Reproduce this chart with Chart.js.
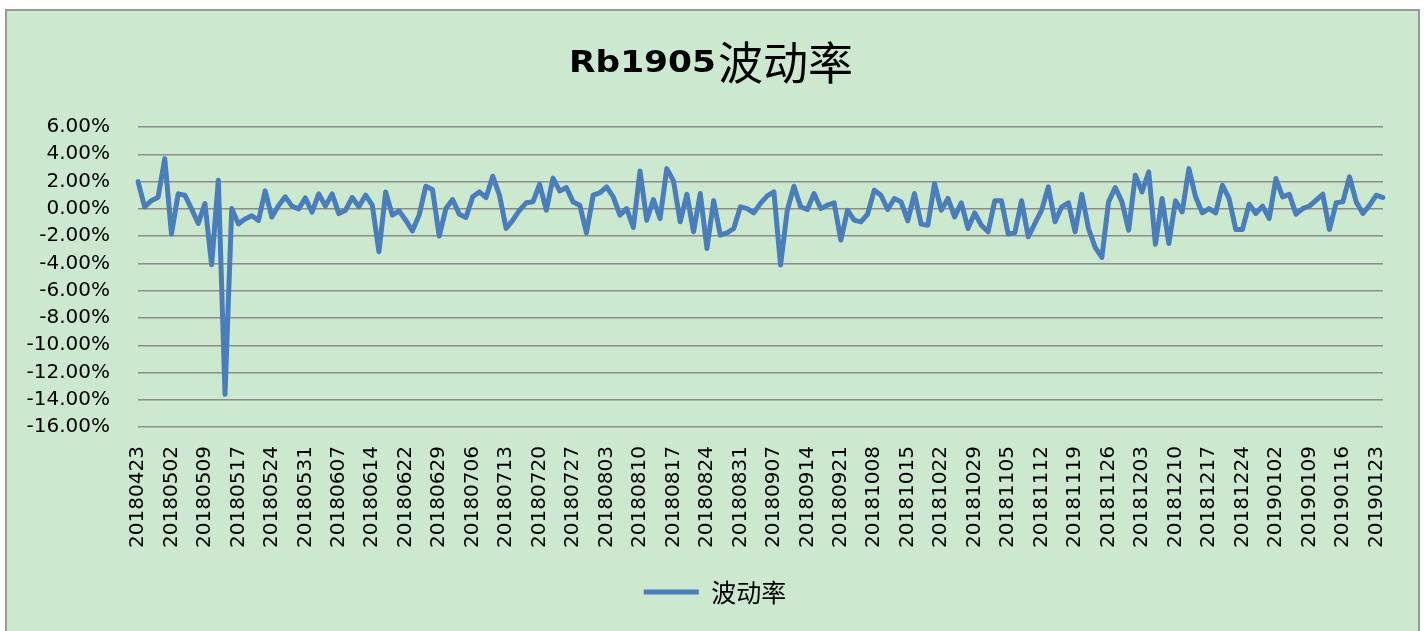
<!DOCTYPE html>
<html>
<head>
<meta charset="utf-8">
<script src="https://cdn.jsdelivr.net/npm/chart.js@4/dist/chart.umd.min.js"></script>
<style>
html, body { margin:0; padding:0; background:#ffffff; width:1426px; height:631px; overflow:hidden; }
#frame { position:absolute; left:5px; top:9px; width:1411px; height:640px; background:#CCE8CF; border:2px solid #9a9a9a; }
#wrap { position:absolute; left:0; top:0; width:1426px; height:631px; }
</style>
</head>
<body>
<div id="frame"></div>
<div id="wrap"><canvas id="c" width="1426" height="631"></canvas></div>
<script>
const TITLE = 'Rb1905波动率';
const SERIES_NAME = '波动率';

const dates = [
  '20180423','20180424','20180425','20180426','20180427',
  '20180502','20180503','20180504','20180507','20180508',
  '20180509','20180511','20180514','20180515','20180516',
  '20180517','20180518','20180521','20180522','20180523',
  '20180524','20180525','20180528','20180529','20180530',
  '20180531','20180601','20180604','20180605','20180606',
  '20180607','20180608','20180611','20180612','20180613',
  '20180614','20180615','20180619','20180620','20180621',
  '20180622','20180625','20180626','20180627','20180628',
  '20180629','20180702','20180703','20180704','20180705',
  '20180706','20180709','20180710','20180711','20180712',
  '20180713','20180716','20180717','20180718','20180719',
  '20180720','20180723','20180724','20180725','20180726',
  '20180727','20180730','20180731','20180801','20180802',
  '20180803','20180806','20180807','20180808','20180809',
  '20180810','20180813','20180814','20180815','20180816',
  '20180817','20180820','20180821','20180822','20180823',
  '20180824','20180827','20180828','20180829','20180830',
  '20180831','20180903','20180904','20180905','20180906',
  '20180907','20180910','20180911','20180912','20180913',
  '20180914','20180917','20180918','20180919','20180920',
  '20180921','20180925','20180926','20180927','20180928',
  '20181008','20181009','20181010','20181011','20181012',
  '20181015','20181016','20181017','20181018','20181019',
  '20181022','20181023','20181024','20181025','20181026',
  '20181029','20181030','20181031','20181101','20181102',
  '20181105','20181106','20181107','20181108','20181109',
  '20181112','20181113','20181114','20181115','20181116',
  '20181119','20181120','20181121','20181122','20181123',
  '20181126','20181127','20181128','20181129','20181130',
  '20181203','20181204','20181205','20181206','20181207',
  '20181210','20181211','20181212','20181213','20181214',
  '20181217','20181218','20181219','20181220','20181221',
  '20181224','20181225','20181226','20181227','20181228',
  '20190102','20190103','20190104','20190107','20190108',
  '20190109','20190110','20190111','20190114','20190115',
  '20190116','20190117','20190118','20190121','20190122',
  '20190123','20190124'
];

// percent values
const volatility = [
  2.0, 0.15, 0.6, 0.85, 3.68,
  -1.85, 1.1, 1.0, 0.0, -1.07,
  0.39, -4.1, 2.1, -13.6, 0.02,
  -1.1, -0.75, -0.5, -0.85, 1.32,
  -0.6, 0.25, 0.88, 0.2, 0.0,
  0.8, -0.25, 1.1, 0.2, 1.1,
  -0.35, -0.1, 0.83, 0.15, 1.0,
  0.27, -3.15, 1.24, -0.46, -0.15,
  -0.83, -1.61, -0.46, 1.66, 1.41,
  -2.0, 0.02, 0.68, -0.39, -0.63,
  0.88, 1.24, 0.83, 2.39, 1.0,
  -1.44, -0.83, -0.1, 0.44, 0.51,
  1.8, -0.1, 2.25, 1.3, 1.56,
  0.51, 0.27, -1.76, 1.0, 1.17,
  1.61, 0.88, -0.46, 0.02, -1.37,
  2.78, -0.83, 0.68, -0.71, 2.95,
  2.05, -0.95, 1.07, -1.68, 1.12,
  -2.9, 0.59, -1.93, -1.76, -1.44,
  0.15, 0.02, -0.29, 0.4, 0.95,
  1.24, -4.12, -0.1, 1.66, 0.15,
  -0.05, 1.12, 0.02, 0.27, 0.44,
  -2.29, -0.1, -0.83, -0.95, -0.39,
  1.37, 1.0, -0.05, 0.76, 0.51,
  -0.88, 1.12, -1.12, -1.2, 1.85,
  -0.1, 0.76, -0.59, 0.44, -1.44,
  -0.3, -1.2, -1.68, 0.59, 0.59,
  -1.85, -1.76, 0.59, -2.05, -1.07,
  -0.1, 1.61, -0.95, 0.15, 0.44,
  -1.68, 1.07, -1.44, -2.83, -3.56,
  0.51, 1.56, 0.51, -1.56, 2.46,
  1.24, 2.71, -2.59, 0.76, -2.54,
  0.59, -0.22, 2.95, 0.88, -0.29,
  0.02, -0.29, 1.73, 0.76, -1.51,
  -1.51, 0.34, -0.34, 0.2, -0.71,
  2.22, 0.88, 1.07, -0.39, 0.02,
  0.2, 0.63, 1.07, -1.51, 0.44,
  0.51, 2.34, 0.51, -0.34, 0.27,
  1.0, 0.83
];

const Y_MIN = -16;
const Y_MAX = 6;
const Y_STEP = 2;
const LABEL_EVERY = 5;

const titlePlugin = {
  id: 'excelTitle',
  afterDraw(chart) {
    const ctx = chart.ctx;
    const m = TITLE.match(/^([\x00-\x7F]*)(.*)$/);
    const latin = m[1], cjk = m[2];
    ctx.save();
    ctx.fillStyle = '#000000';
    const latinFont = 'bold 30px "DejaVu Sans"';
    const cjkFont = '45px "Noto Sans CJK SC"';
    ctx.font = latinFont;
    const lw = ctx.measureText(latin).width;
    const sx = 147 / lw;
    ctx.font = cjkFont;
    const cw = ctx.measureText(cjk).width;
    const total = lw * sx + 2 + cw;
    const x0 = 711 - total / 2;
    ctx.save();
    ctx.font = latinFont;
    ctx.textBaseline = 'alphabetic';
    ctx.textAlign = 'left';
    ctx.translate(x0, 72);
    ctx.scale(sx, 1);
    ctx.fillText(latin, 0, 0);
    ctx.restore();
    ctx.font = cjkFont;
    ctx.textBaseline = 'middle';
    ctx.textAlign = 'left';
    ctx.fillText(cjk, x0 + lw * sx + 2, 63);
    ctx.restore();
  }
};

// centre the legend under the whole chart box (as in the spreadsheet layout)
const legendCentre = {
  id: 'legendCentre',
  afterLayout(chart) {
    const lg = chart.legend;
    if (!lg) return;
    const d = 715 - (lg.left + lg.right) / 2;
    lg.left += d;
    lg.right += d;
  }
};

new Chart(document.getElementById('c'), {
  type: 'line',
  data: {
    labels: dates,
    datasets: [{
      label: SERIES_NAME,
      data: volatility,
      borderColor: '#4A7EBB',
      backgroundColor: '#4A7EBB',
      borderWidth: 5,
      pointRadius: 0,
      pointHoverRadius: 0,
      tension: 0,
      borderJoinStyle: 'round',
      borderCapStyle: 'round',
      fill: false
    }]
  },
  options: {
    responsive: false,
    devicePixelRatio: 1,
    animation: false,
    layout: { padding: { left: 0, right: 38, top: 127, bottom: 16.5 } },
    scales: {
      x: {
        type: 'category',
        offset: false,
        grid: { display: false, drawTicks: false },
        border: { display: false },
        ticks: {
          autoSkip: false,
          maxRotation: 90,
          minRotation: 90,
          padding: 19,
          color: '#000000',
          font: { family: "'DejaVu Sans'", size: 20 },
          callback: function (v, i) { return i % LABEL_EVERY === 0 ? this.getLabelForValue(v) : ''; }
        },
        afterFit(s) { s.height = 142.4; }
      },
      y: {
        min: Y_MIN,
        max: Y_MAX,
        grid: { color: '#8c8c8c', lineWidth: 1.5, drawTicks: false },
        border: { display: false },
        ticks: {
          stepSize: Y_STEP,
          padding: 28,
          color: '#000000',
          font: { family: "'DejaVu Sans'", size: 20 },
          callback: v => Number(v).toFixed(2) + '%'
        },
        afterFit(s) { s.width = 138; }
      }
    },
    plugins: {
      title: { display: false },
      tooltip: { enabled: false },
      legend: {
        display: true,
        position: 'bottom',
        labels: {
          usePointStyle: true,
          pointStyle: 'line',
          pointStyleWidth: 55,
          padding: 10,
          color: '#000000',
          font: { family: "'Noto Sans CJK SC', sans-serif", size: 25 }
        }
      }
    }
  },
  plugins: [titlePlugin, legendCentre]
});
</script>
</body>
</html>
